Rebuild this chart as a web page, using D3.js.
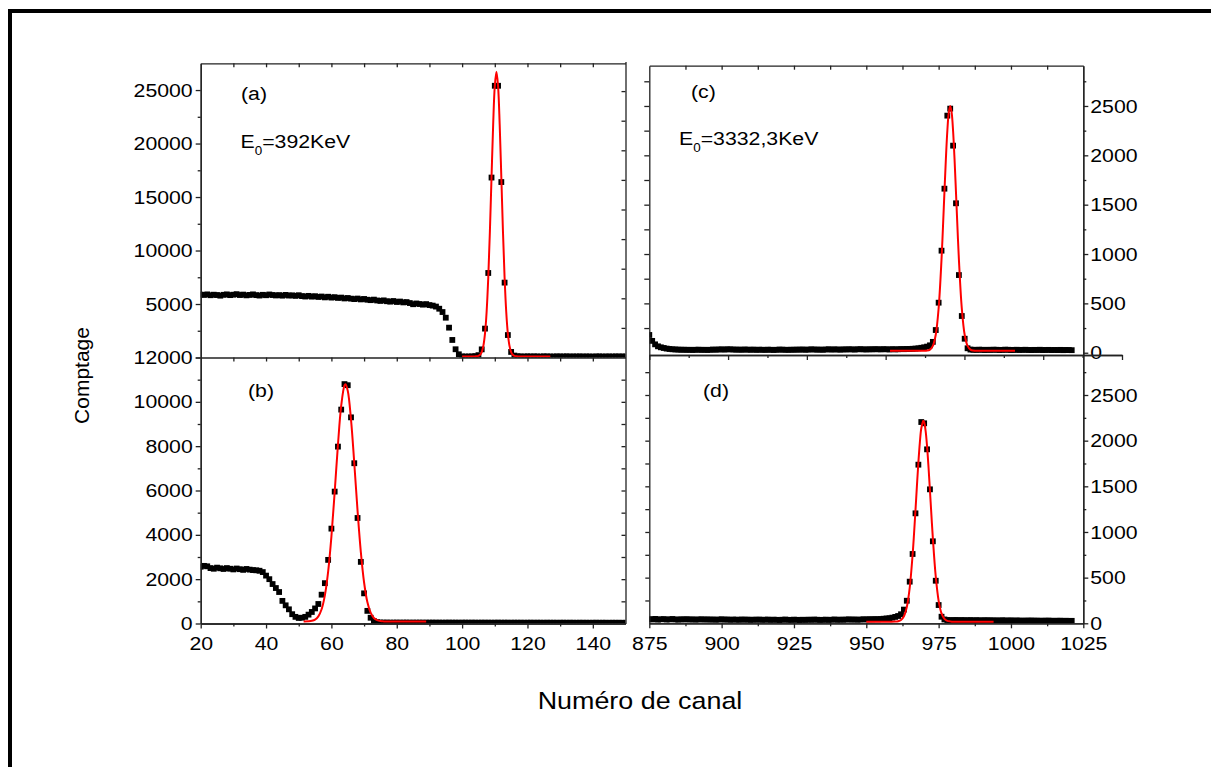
<!DOCTYPE html>
<html><head><meta charset="utf-8">
<script src="https://cdn.jsdelivr.net/npm/d3@7"></script>
<style>
body{margin:0;background:#fff;}
svg text{font-family:"Liberation Sans",Arial,sans-serif;fill:#000;}
.st{transform-box:fill-box;transform:scaleX(1.12);}
</style></head><body><svg id="c" width="1211" height="767"></svg>
<script>
// ---------------- DATA ----------------
const startA = 20;
const countsA = [
5880,5850,5900,5820,5870,5840,5780,5860,5900,5830,
5870,5920,5840,5880,5810,5850,5900,5830,5790,5860,
5820,5890,5840,5800,5830,5780,5850,5790,5810,5760,
5820,5740,5700,5760,5690,5730,5660,5700,5620,5680,
5600,5640,5570,5600,5520,5560,5500,5460,5510,5430,
5470,5400,5360,5410,5330,5290,5340,5260,5220,5280,
5190,5230,5150,5180,5090,4980,5050,5000,4940,4990,
4900,4850,4760,4560,4250,3720,2790,1640,770,300,
100,90,95,100,130,220,760,2700,7900,16820,
25400,25400,16400,7000,2100,520,180,120,100,90,
110,95,105,100,85,110,100,95,90,105,
100,95,110,90,100,95,105,90,100,95,
85,100,105,90,95,100,90,105,95,100,90];
const fitA = [[100,100],[103,100],[104,105],[105,150],[105.5,255],[106,510],[106.5,1090],[107,2230],[107.5,4280],[108,7450],[108.5,11780],[109,16840],[109.5,21750],[110,25370],[110.5,26700],[111,25370],[111.5,21750],[112,16840],[112.5,11780],[113,7450],[113.5,4280],[114,2230],[114.5,1090],[115,510],[115.5,255],[116,150],[117,105],[118,100],[127,100]];

const startB = 20;
const countsB = [
2560,2600,2580,2500,2470,2520,2490,2460,2500,2470,
2440,2480,2450,2420,2460,2430,2410,2400,2380,2320,
2160,2000,1780,1600,1420,1020,820,640,420,300,
250,260,300,400,520,680,880,1300,1820,2870,
4280,5950,7980,9650,10800,10750,9300,7230,4760,2780,
1360,570,260,110,60,45,40,42,38,40,
41,39,40,42,38,40,39,41,38,40,
39,41,38,40,37,39,40,38,39,37,
38,40,37,39,38,36,39,37,38,36,
37,39,36,38,37,35,38,36,37,35,
36,38,35,37,36,34,37,35,36,34,
35,37,34,36,35,33,36,34,35,33,
34,36,33,35,34,32,35,33,34,32,33];
const fitB = [[51.5,90],[53,99],[54,120],[55,178],[56,322],[57,644],[58,1270],[59,2340],[60,3920],[61,5930],[62,8060],[63,9830],[64,10740],[64.3,10790],[65,10500],[66,9200],[67,7230],[68,5090],[69,3230],[70,1850],[71,970],[72,490],[73,250],[74,150],[75,108],[76,95],[78,90],[89,90]];

const startC = 875;
const countsC = [
180,120,85,65,55,48,42,38,35,33,
32,30,31,29,30,28,30,31,29,30,
28,30,32,31,33,34,32,35,34,33,
31,32,30,33,31,30,32,29,31,30,
29,31,30,28,30,32,31,30,29,31,
30,32,31,33,30,32,34,33,31,32,
30,33,35,32,34,33,31,34,33,35,
34,32,35,36,34,33,35,34,36,35,
34,36,35,33,36,34,35,37,36,38,
38,40,42,45,50,55,62,75,110,230,
507,1034,1662,2402,2473,2098,1514,787,372,142,
45,32,30,29,31,30,28,30,29,31,
30,28,29,31,30,28,29,30,28,29,
30,28,27,29,28,30,27,28,29,27,
28,27,29,26,28,27,26];
const fitC = [[958.2,20],[968,20],[970,20],[971,22],[972,32],[973,69],[974,182],[975,452],[976,948],[976.5,1274],[977,1622],[977.5,1960],[978,2244],[978.5,2433],[979,2500],[979.5,2433],[980,2244],[980.5,1960],[981,1622],[981.5,1274],[982,948],[983,452],[984,182],[985,69],[986,32],[987,22],[988,20],[1001.4,20]];

const startD = 875;
const countsD = [
45,42,48,40,44,46,41,43,47,42,
40,44,42,45,41,43,40,42,44,41,
43,40,42,39,41,44,40,42,38,41,
40,38,42,39,41,37,40,39,41,38,
39,41,37,40,38,36,39,41,38,37,
40,38,36,39,37,40,38,41,39,37,
38,40,37,39,42,38,40,39,41,43,
40,42,39,41,44,42,45,43,46,44,
47,50,53,56,62,70,80,99,150,247,
456,759,1204,1737,2204,2190,1905,1467,898,466,
200,72,42,36,35,34,36,33,35,34,
33,35,32,34,33,31,34,32,33,31,
32,30,33,31,30,32,29,31,30,28,
30,29,31,28,30,27,29,28,30,27,
28,27,29,26,28,25,27];
const fitD = [[950,18],[958,18],[960,19],[961,23],[962,36],[963,77],[964,178],[965,388],[966,748],[966.5,981],[967,1240],[967.5,1507],[968,1761],[968.5,1976],[969,2133],[969.7,2218],[970,2202],[970.5,2107],[971,1938],[971.5,1712],[972,1454],[972.5,1187],[973,933],[974,513],[975,246],[976,108],[977,48],[978,26],[979,21],[980,18],[994,18]];

const ticksAY = [0,5000,10000,15000,20000,25000];
const ticksBY = [0,2000,4000,6000,8000,10000,12000];
const ticksBX = [20,40,60,80,100,120,140];
const ticksCY = [0,500,1000,1500,2000,2500];
const ticksDY = [0,500,1000,1500,2000,2500];
const ticksDX = [875,900,925,950,975,1000,1025];

// ---------------- LAYOUT ----------------
const svg = d3.select("#c");
const AX = "#222";
const xAB = d3.scaleLinear([20,150],[200.7,625.5]);
const yA = d3.scaleLinear([0,27500],[357.5,63.3]);
const yB = d3.scaleLinear([0,12000],[623.5,357.5]);
const xCD = d3.scaleLinear([875,1025],[649.3,1083.3]);
const yC = d3.scaleLinear([-23,2908],[355,65.7]);
const yD = d3.scaleLinear([0,2938],[623.3,355]);
const yArMirror = d3.scaleLinear([0,10],[357.5,61.5]);     // mirrored right axis of (a)
const xDTop = d3.scaleLinear([0,6],[649.3,1122]);          // top axis of (d)

// outer frame
svg.append("path").attr("d","M10,767V11H1211").attr("fill","none").attr("stroke","#000").attr("stroke-width",4);

const defs = svg.append("defs");
function clip(id,x0,x1,y0,y1){
  defs.append("clipPath").attr("id",id).append("rect").attr("x",x0).attr("y",y0).attr("width",x1-x0).attr("height",y1-y0);
}
clip("cA",200.7,625.5,63.3,357.5);
clip("cB",200.7,625.5,357.5,623.5);
clip("cC",649.3,1083.3,65.7,355);
clip("cD",649.3,1083.3,355,623.3);

function panel(id,start,counts,fit,x,y){
  const g = svg.append("g").attr("clip-path",`url(#${id})`);
  const pts = counts.map((v,i)=>[start+i,v]);
  const s = 5.8;
  g.selectAll("rect").data(pts).join("rect")
    .attr("x",d=>x(d[0])-s/2).attr("y",d=>y(d[1])-s/2)
    .attr("width",s).attr("height",s).attr("fill","#000");
  g.append("path").datum(fit)
    .attr("d",d3.line().x(d=>x(d[0])).y(d=>y(d[1])).curve(d3.curveCatmullRom.alpha(0.5)))
    .attr("fill","none").attr("stroke","#ff0000").attr("stroke-width",2);
}
panel("cA",startA,countsA,fitA,xAB,yA);
panel("cB",startB,countsB,fitB,xAB,yB);
panel("cC",startC,countsC,fitC,xCD,yC);
panel("cD",startD,countsD,fitD,xCD,yD);

function ax(gen,tx,ty,anchorOrigin){
  const g = svg.append("g").attr("transform",`translate(${tx},${ty})`).call(gen);
  g.attr("font-family",null).attr("font-size",null);
  g.selectAll("path,line").attr("stroke",AX).attr("stroke-width",1.3);
  g.selectAll("text").attr("font-size",19).attr("fill","#000").attr("class","st")
    .style("transform-origin",anchorOrigin);
  return g;
}
const blank = ()=>"";
const fmt = d3.format("d");
// the "0" of (a) sits exactly under the last digit of (b)'s "12000": drawn once
const fmtA = d => d === 0 ? "" : fmt(d);

// ---- Panel (a)
ax(d3.axisLeft(yA).tickValues(ticksAY).tickSize(5).tickPadding(3).tickSizeOuter(0).tickFormat(fmtA),200.7,0,"100% 50%");
ax(d3.axisLeft(yA).tickValues([2500,7500,12500,17500,22500]).tickSize(3).tickSizeOuter(0).tickFormat(blank),200.7,0);
ax(d3.axisRight(yArMirror).tickValues(d3.range(1,10)).tickSize(-4).tickSizeOuter(0).tickFormat(blank),625.5,0);
ax(d3.axisTop(xAB).tickValues(d3.range(30,150,10)).tickSize(-4).tickSizeOuter(0).tickFormat(blank),0,63.3);

// ---- Panel (b)
ax(d3.axisLeft(yB).tickValues(ticksBY).tickSize(5).tickPadding(3).tickSizeOuter(0).tickFormat(fmt),200.7,0,"100% 50%");
ax(d3.axisLeft(yB).tickValues(d3.range(1000,12000,2000)).tickSize(3).tickSizeOuter(0).tickFormat(blank),200.7,0);
ax(d3.axisRight(yB).tickValues(d3.range(1000,12000,1000)).tickSize(-4).tickSizeOuter(0).tickFormat(blank),625.5,0);
ax(d3.axisTop(xAB).tickValues(d3.range(30,150,10)).tickSize(-4).tickSizeOuter(0).tickFormat(blank),0,357.5);
ax(d3.axisBottom(xAB).tickValues(ticksBX).tickSize(5).tickPadding(8).tickSizeOuter(0).tickFormat(fmt),0,623.5,"50% 50%");
ax(d3.axisBottom(xAB).tickValues(d3.range(30,150,20)).tickSize(3).tickSizeOuter(0).tickFormat(blank),0,623.5);

// ---- Panel (c)
ax(d3.axisLeft(yC).tickValues(d3.range(250,2900,250)).tickSize(5).tickSizeOuter(0).tickFormat(blank),649.3,0);
ax(d3.axisRight(yC).tickValues(ticksCY).tickSize(5).tickPadding(2).tickSizeOuter(0).tickFormat(fmt),1083.3,0,"0% 50%");
ax(d3.axisRight(yC).tickValues(d3.range(250,2900,500)).tickSize(3).tickSizeOuter(0).tickFormat(blank),1083.3,0);
ax(d3.axisTop(xCD).tickValues(d3.range(887.5,1025,12.5)).tickSize(-4).tickSizeOuter(0).tickFormat(blank),0,65.7);

// ---- Panel (d)
ax(d3.axisTop(xDTop).tickValues(d3.range(0,6.01,1)).tickSize(-5).tickSizeOuter(0).tickFormat(blank),0,355);
ax(d3.axisTop(xDTop).tickValues(d3.range(0.5,6,1)).tickSize(-3).tickSizeOuter(0).tickFormat(blank),0,355);
ax(d3.axisLeft(yD).tickValues(d3.range(250,2938,250)).tickSize(4).tickSizeOuter(0).tickFormat(blank),649.3,0);
ax(d3.axisRight(yD).tickValues(ticksDY).tickSize(5).tickPadding(2).tickSizeOuter(0).tickFormat(fmt),1083.3,0,"0% 50%");
ax(d3.axisRight(yD).tickValues(d3.range(250,2938,500)).tickSize(3).tickSizeOuter(0).tickFormat(blank),1083.3,0);
ax(d3.axisBottom(xCD).tickValues(ticksDX).tickSize(5).tickPadding(8).tickSizeOuter(0).tickFormat(fmt),0,623.3,"50% 50%");
ax(d3.axisBottom(xCD).tickValues(d3.range(887.5,1025,25)).tickSize(3).tickSizeOuter(0).tickFormat(blank),0,623.3);

// ---- annotations
function label(x,y,t){
  svg.append("text").attr("x",x).attr("y",y).attr("font-size",19).attr("class","st")
    .style("transform-origin","0% 50%").text(t);
}
label(241,100,"(a)");
label(248,397,"(b)");
label(691,98,"(c)");
label(703,397,"(d)");
function energy(x,y,val){
  const t = svg.append("text").attr("x",x).attr("y",y).attr("font-size",19).attr("class","st").style("transform-origin","0% 50%");
  t.append("tspan").text("E");
  t.append("tspan").attr("font-size",12).attr("dy",7).text("0");
  t.append("tspan").attr("dy",-7).text("="+val);
}
energy(240.5,148.5,"392KeV");
energy(679,145,"3332,3KeV");

svg.append("text").attr("x",640).attr("y",709).attr("text-anchor","middle").attr("font-size",24)
  .attr("class","st").style("transform-origin","50% 50%").text("Numéro de canal");
svg.append("text").attr("transform","translate(89,375.5) rotate(-90)").attr("text-anchor","middle")
  .attr("font-size",21).text("Comptage");
</script></body></html>
